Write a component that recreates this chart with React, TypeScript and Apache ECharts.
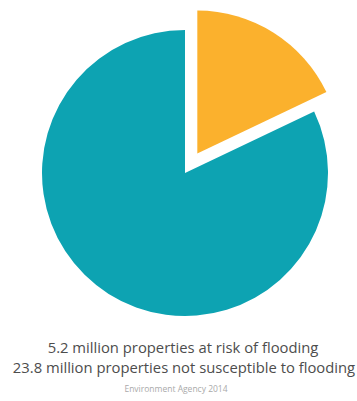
import React, { useEffect, useRef } from "react";
import * as echarts from "echarts";

const categories = ["properties at risk of flooding", "properties not susceptible to flooding"];
const values = [5.2, 23.8];
const colors = ["#fbb12d", "#0da3b2"];
const captionLines = [
  "5.2 million properties at risk of flooding",
  "23.8 million properties not susceptible to flooding",
];
const sourceText = "Environment Agency 2014";

export default function App() {
  const ref = useRef<HTMLDivElement>(null);
  useEffect(() => {
    if (!ref.current) return;
    const chart = echarts.init(ref.current, null, { renderer: "svg" });
    const captionStyle = {
      textAlign: "center",
      textVerticalAlign: "middle",
      fontFamily: "Open Sans",
      fontSize: 14.8,
      fill: "#4d4d4d",
    };
    chart.setOption({
      animation: false,
      backgroundColor: "#ffffff",
      series: [
        {
          type: "pie",
          center: [185, 173],
          radius: 143,
          startAngle: 90,
          clockwise: true,
          selectedMode: "single",
          selectedOffset: 23,
          label: { show: false },
          labelLine: { show: false },
          emphasis: { disabled: true },
          itemStyle: { borderWidth: 0 },
          data: categories.map((c, i) => ({
            name: c,
            value: values[i],
            selected: i === 0,
            itemStyle: { color: colors[i] },
          })),
        },
      ],
      graphic: [
        {
          type: "text",
          x: 183,
          y: 347,
          style: { ...captionStyle, text: captionLines[0] },
        },
        {
          type: "text",
          x: 184,
          y: 367,
          style: { ...captionStyle, text: captionLines[1] },
        },
        {
          type: "text",
          x: 176,
          y: 388,
          style: {
            text: sourceText,
            textAlign: "center",
            textVerticalAlign: "middle",
            fontFamily: "Open Sans",
            fontSize: 8.5,
            fill: "#aaaaaa",
          },
        },
      ],
    });
    return () => chart.dispose();
  }, []);
  return (
    <div
      ref={ref}
      style={{ position: "fixed", left: 0, top: 0, width: 357, height: 401 }}
    />
  );
}
